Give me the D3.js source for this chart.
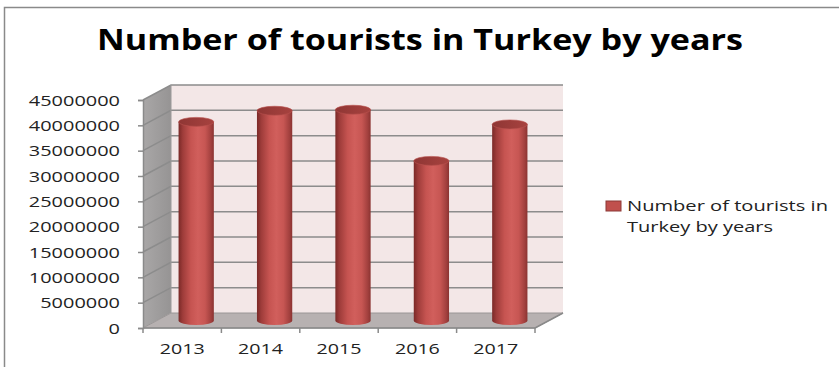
<!DOCTYPE html>
<html>
<head>
<meta charset="utf-8">
<script src="https://cdn.jsdelivr.net/npm/d3@7"></script>
<style>
  html, body { margin: 0; padding: 0; background: #fff; }
  svg { display: block; }
  text { font-family: "Open Sans", "DejaVu Sans", sans-serif; fill: #222; }
</style>
</head>
<body>
<svg id="chart" width="839" height="367"></svg>
<script>
// Tourist arrivals per year
const years = ["2013", "2014", "2015", "2016", "2017"];
const tourists = [39200000, 41400000, 41600000, 31500000, 38700000];
const yTicks = [0, 5000000, 10000000, 15000000, 20000000, 25000000, 30000000, 35000000, 40000000, 45000000];
const title = "Number of tourists in Turkey by years";
const legendLines = ["Number of tourists in", "Turkey by years"];

const svg = d3.select("#chart");

// Front plane of the plot box, plus the depth offset of the 3D box
const x = d3.scaleBand().domain(years).range([143, 535]).paddingInner(0).paddingOuter(0);
const y = d3.scaleLinear().domain([0, 45000000]).range([328, 100]);
const depth = { dx: 28, dy: -15 };

const defs = svg.append("defs");
const sideGrad = defs.append("linearGradient").attr("id", "sideGrad").attr("x1", 0).attr("x2", 1);
sideGrad.append("stop").attr("offset", "0%").attr("stop-color", "#a9a7a7");
sideGrad.append("stop").attr("offset", "100%").attr("stop-color", "#969494");

const cylGrad = defs.append("linearGradient").attr("id", "cylGrad").attr("x1", 0).attr("x2", 1);
[["0%", "#7a2927"], ["12%", "#9e3c3a"], ["35%", "#c65451"], ["55%", "#d15f5c"], ["75%", "#c75653"], ["92%", "#a2403e"], ["100%", "#8a3331"]]
  .forEach(([o, c]) => cylGrad.append("stop").attr("offset", o).attr("stop-color", c));

const topGrad = defs.append("linearGradient").attr("id", "topGrad").attr("x1", 0).attr("x2", 1);
topGrad.append("stop").attr("offset", "0%").attr("stop-color", "#8f3634");
topGrad.append("stop").attr("offset", "100%").attr("stop-color", "#a7423f");

// Outer frame (left and top edges visible)
svg.append("path")
  .attr("d", "M4.5,367 L4.5,7.5 L839,7.5")
  .attr("fill", "none").attr("stroke", "#8a8a8a").attr("stroke-width", 1.5);

// Title
svg.append("text")
  .attr("x", 420).attr("y", 50)
  .attr("text-anchor", "middle")
  .attr("font-size", 28).attr("font-weight", 700)
  .attr("textLength", 646).attr("lengthAdjust", "spacingAndGlyphs")
  .style("fill", "#000")
  .text(title);

const x0 = x.range()[0], x1 = x.range()[1];
const yb = y(0), yt = y(45000000);

// Back wall
svg.append("rect")
  .attr("x", x0 + depth.dx).attr("y", yt + depth.dy)
  .attr("width", x1 - x0).attr("height", yb - yt)
  .attr("fill", "#f3e7e7");

// Side wall
svg.append("path")
  .attr("d", `M${x0},${yb} L${x0},${yt} L${x0 + depth.dx},${yt + depth.dy} L${x0 + depth.dx},${yb + depth.dy} Z`)
  .attr("fill", "url(#sideGrad)");

// Floor
svg.append("path")
  .attr("d", `M${x0},${yb} L${x1},${yb} L${x1 + depth.dx},${yb + depth.dy} L${x0 + depth.dx},${yb + depth.dy} Z`)
  .attr("fill", "#b7b1b1").attr("stroke", "#9a9696").attr("stroke-width", 1);

// Gridlines on the side wall and back wall
const grid = svg.append("g").attr("stroke", "#8c8c8c").attr("stroke-width", 1.5).attr("fill", "none");
yTicks.filter(v => v > 0).forEach(v => {
  grid.append("path")
    .attr("d", `M${x0},${y(v)} L${x0 + depth.dx},${y(v) + depth.dy} L${x1 + depth.dx},${y(v) + depth.dy}`);
});
// Edge between side wall and back wall
grid.append("line")
  .attr("x1", x0 + depth.dx).attr("x2", x0 + depth.dx)
  .attr("y1", yt + depth.dy).attr("y2", yb + depth.dy)
  .attr("stroke", "#9a9a9a").attr("stroke-width", 1);

// Cylinders, placed at mid depth of the box
const rx = x.bandwidth() * 0.225;
const ry = 4.5;
const cyl = svg.append("g").selectAll("g").data(years.map((d, i) => ({ year: d, value: tourists[i] })))
  .join("g");

cyl.each(function (d) {
  const g = d3.select(this);
  const cx = x(d.year) + x.bandwidth() / 2 + depth.dx / 2;
  const base = y(0) + depth.dy / 2;
  const top = y(d.value) + depth.dy / 2;
  g.append("path")
    .attr("d", `M${cx - rx},${top} L${cx - rx},${base} A${rx},${ry} 0 0 0 ${cx + rx},${base} L${cx + rx},${top} Z`)
    .attr("fill", "url(#cylGrad)");
  g.append("ellipse")
    .attr("cx", cx).attr("cy", top).attr("rx", rx).attr("ry", ry)
    .attr("fill", "url(#topGrad)")
    .attr("stroke", "#b9514e").attr("stroke-width", 0.6);
});

// Value axis
const yAxis = svg.append("g")
  .attr("transform", `translate(${x0},0)`)
  .call(d3.axisLeft(y).tickValues(yTicks).tickSize(5).tickPadding(18).tickFormat(d3.format("d")));
yAxis.select(".domain").attr("stroke", "#8a8a8a").attr("stroke-width", 1.5);
yAxis.selectAll(".tick line").attr("stroke", "#8a8a8a").attr("stroke-width", 1.5);
yAxis.selectAll(".tick text")
  .attr("font-size", 14)
  .attr("font-family", "'Open Sans', sans-serif")
  .attr("fill", "#222")
  .attr("dy", "0.36em")
  .each(function (d) {
    const s = d3.format("d")(d);
    d3.select(this).attr("textLength", s.length * 11.4).attr("lengthAdjust", "spacingAndGlyphs");
  });

// Category axis: line, boundary ticks and centred year labels
const xAxis = svg.append("g").attr("stroke", "#8a8a8a").attr("stroke-width", 1.5);
xAxis.append("line").attr("x1", x0).attr("x2", x1).attr("y1", yb).attr("y2", yb);
const bounds = years.map(d => x(d)).concat([x1]);
xAxis.selectAll("line.tk").data(bounds).join("line")
  .attr("class", "tk")
  .attr("x1", d => d).attr("x2", d => d)
  .attr("y1", yb).attr("y2", yb + 5);
// Floor right edge
xAxis.append("line")
  .attr("x1", x1).attr("y1", yb).attr("x2", x1 + depth.dx).attr("y2", yb + depth.dy);

svg.append("g").selectAll("text").data(years).join("text")
  .attr("x", d => x(d) + x.bandwidth() / 2)
  .attr("y", 354)
  .attr("text-anchor", "middle")
  .attr("font-size", 14)
  .attr("textLength", 45).attr("lengthAdjust", "spacingAndGlyphs")
  .text(d => d);

// Legend
const legend = svg.append("g");
legend.append("rect")
  .attr("x", 606).attr("y", 201).attr("width", 15).attr("height", 10)
  .attr("fill", "#c0504d").attr("stroke", "#8c3836").attr("stroke-width", 1);
legend.selectAll("text").data(legendLines).join("text")
  .attr("x", 627)
  .attr("y", (d, i) => 211 + i * 21)
  .attr("font-size", 15)
  .attr("textLength", (d, i) => i === 0 ? 201 : 146)
  .attr("lengthAdjust", "spacingAndGlyphs")
  .text(d => d);
</script>
</body>
</html>
